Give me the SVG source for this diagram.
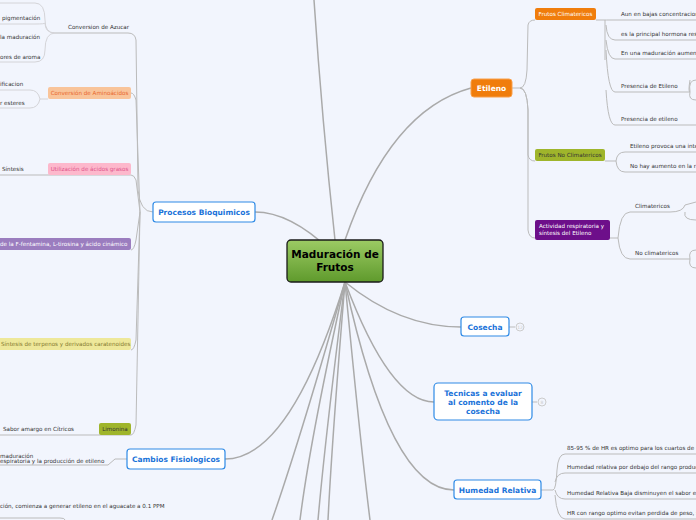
<svg xmlns="http://www.w3.org/2000/svg" width="696" height="520" viewBox="0 0 696 520">
<defs>
<linearGradient id="g" x1="0" y1="0" x2="0" y2="1"><stop offset="0" stop-color="#9ccb64"/><stop offset="1" stop-color="#5f9a2c"/></linearGradient>
<style>
text{font-family:Verdana,"DejaVu Sans",sans-serif}
.l{font-size:5.6px;fill:#333}
.c{fill:none;stroke:#bbb;stroke-width:1}
.m{fill:none;stroke:#aaa;stroke-width:1.5}
.u{fill:none;stroke:#d4d4d8;stroke-width:1}
.b{fill:#fff;stroke:#2e8ae6;stroke-width:1.2}
.bt{font-size:7.5px;font-weight:bold;fill:#1a73d9;text-anchor:middle}
.s{font-size:5.6px;text-anchor:middle}
</style>
</defs>
<rect width="696" height="520" fill="#f2f5fd"/>
<g id="connectors">
<path class="m" d="M335 240 Q322 120 314 0"/>
<path class="m" d="M345 240 Q390 110 471 88"/>
<path class="m" d="M330 250 Q290 212 255 212"/>
<path class="m" d="M345 282 Q400 327 461 327"/>
<path class="m" d="M345 282 Q390 402 434 402"/>
<path class="m" d="M345 282 Q390 490 454 490"/>
<path class="m" d="M345 282 Q290 459 225 459"/>
<path class="m" d="M345 282 Q300 440 272 520"/>
<path class="m" d="M345 282 Q310 440 300 520"/>
<path class="m" d="M345 282 Q325 440 318 520"/>
<path class="m" d="M345 282 Q332 440 328 520"/>
<path class="m" d="M345 282 Q360 440 370 520"/>
<path class="c" d="M153 212 Q140 212 138 190 L136 40 Q135 33 128 33 L55 33"/>
<path class="c" d="M140 212 L136 100 Q134 93 131 93"/>
<path class="c" d="M140 212 L136 180 Q134 175 131 175 L0 175"/>
<path class="c" d="M140 212 L136 240 Q134 250 131 250"/>
<path class="c" d="M140 212 L136 340 Q134 350 131 350"/>
<path class="c" d="M140 212 L136 425 Q134 435 131 435 L0 435"/>
<path class="c" d="M127 459 L115 459 L108 465 L0 465"/>
<path class="c" d="M0 518 L60 518 Q65 518 65 520"/>
<path class="u" d="M55 33 Q45 33 45 20 Q45 3 35 3 L0 3 M55 33 Q45 33 45 23 Q45 24 35 24 L0 24 M55 33 Q45 33 45 50 Q45 62 35 62 L0 62"/>
<path class="u" d="M48 99 L40 99 Q38 90 30 90 L0 90 M40 99 Q38 108 30 108 L0 108"/>
<path class="c" d="M512 88 L520 88 Q526 88 527 70 L528 25 Q529 20 535 20"/>
<path class="c" d="M520 88 Q527 88 528 110 L528 155 Q529 161 535 161"/>
<path class="c" d="M520 88 Q527 88 528 110 L528 230 Q529 238 535 238"/>
<path class="c" d="M596 20 L605 20 L605 60 M605 20 Q605 20 610 20 L696 20 M606 25 Q607 40 615 40 L696 40 M606 40 Q608 59 615 59 L696 59 M606 50 Q608 92 615 92 L690 92 Q688 92 690 80 M606 90 Q608 125 615 125 L696 125"/>
<path class="c" d="M690 92 Q688 100 696 100 M690 92 Q688 80 696 80"/>
<path class="c" d="M605 161 L616 161 Q617 152 625 152 L696 152 M616 161 Q617 172 625 172 L696 172"/>
<path class="c" d="M610 238 L618 238 Q620 212 630 212 L670 212 Q683 212 685 205 L696 202 M685 212 Q683 220 696 220 M618 238 Q620 259 630 259 L690 259 Q688 250 696 250 M690 259 Q688 268 696 268"/>
<path class="c" d="M509 327 L515 327"/>
<path class="c" d="M532 402 L537 402"/>
<path class="c" d="M541 490 L553 490 Q556 490 557 470 Q558 454 565 454 L696 454 M555 482 Q557 473 565 473 L696 473 M555 490 Q557 499 565 499 L696 499 M555 495 Q557 519 565 519 L696 519"/>
</g>
<g id="central"><rect x="287" y="240" width="96" height="42" rx="4" fill="url(#g)" stroke="#1a1a1a" stroke-width="1.3"/><text x="335" y="258" font-size="10.5" font-weight="bold" text-anchor="middle">Maduración de</text><text x="335" y="271" font-size="10.5" font-weight="bold" text-anchor="middle">Frutos</text></g>
<g id="procesos"><rect class="b" x="153" y="202" width="102" height="20" rx="3"/><text class="bt" x="204" y="215">Procesos Bioquimicos</text></g>
<g id="cambios"><rect class="b" x="127" y="449" width="98" height="20" rx="3"/><text class="bt" x="176" y="462">Cambios Fisiologicos</text></g>
<g id="etileno"><rect x="471" y="79" width="41" height="18" rx="3" fill="#f07d0c" stroke="#f9a04b"/><text x="491.5" y="91" font-size="7.5" font-weight="bold" fill="#fff" text-anchor="middle">Etileno</text></g>
<g id="cosecha"><rect class="b" x="461" y="317" width="48" height="19" rx="3"/><text class="bt" x="485" y="330">Cosecha</text><circle cx="520" cy="327" r="4" fill="none" stroke="#ccc"/><text x="520" y="329" font-size="4.5" fill="#ccc" text-anchor="middle">12</text></g>
<g id="tecnicas"><rect class="b" x="434" y="383" width="98" height="37" rx="4"/><text class="bt" x="483" y="396">Tecnicas a evaluar</text><text class="bt" x="483" y="405">al comento de la</text><text class="bt" x="483" y="414">cosecha</text><circle cx="542" cy="402" r="4" fill="none" stroke="#ccc"/><text x="542" y="404" font-size="4.5" fill="#ccc" text-anchor="middle">8</text></g>
<g id="humedad"><rect class="b" x="454" y="480" width="87" height="19" rx="3"/><text class="bt" x="497.5" y="493">Humedad Relativa</text></g>
<g id="sub-left">
<text class="l" x="68" y="29">Conversion de Azucar</text>
<rect x="48" y="87" width="83" height="12" rx="2" fill="#f9c49a"/><text class="s" x="89.5" y="95" fill="#e8652b">Conversión de Aminoácidos</text>
<rect x="48" y="163" width="83" height="12" rx="2" fill="#fdb8cc"/><text class="s" x="89.5" y="171" fill="#e0558a">Utilización de ácidos grasos</text>
<rect x="-5" y="238" width="136" height="12" rx="2" fill="#9b7dbf"/><text class="l" x="0" y="246" style="fill:#fff">de la F-fentamina, L-tirosina y ácido cinámico</text>
<rect x="-5" y="338" width="136" height="12" rx="2" fill="#eee89a"/><text class="l" x="1" y="346" style="fill:#857a30">Síntesis de terpenos y derivados caratenoides</text>
<rect x="99" y="423" width="32" height="12" rx="2" fill="#9fb52b"/><text class="s" x="115" y="431" fill="#333">Limonina</text>
<text class="l" x="2" y="20">pigmentación</text>
<text class="l" x="0" y="39">la maduración</text>
<text class="l" x="0" y="59">ores de aroma</text>
<text class="l" x="0" y="86">ificacion</text>
<text class="l" x="0" y="105">r esteres</text>
<text class="l" x="2" y="171">Síntesis</text>
<text class="l" x="3" y="431">Sabor amargo en Cítricos</text>
<text class="l" x="0" y="458">maduración</text>
<text class="l" x="0" y="463">espiratoria y la producción de etileno</text>
<text class="l" x="0" y="508">ción, comienza a generar etileno en el aguacate a 0.1 PPM</text>
</g>
<g id="sub-right">
<rect x="535" y="8" width="61" height="12" rx="2" fill="#f07d0c"/><text class="s" x="565.5" y="16" fill="#fff">Frutos Climatericos</text>
<rect x="535" y="149" width="70" height="12" rx="2" fill="#9fb52b"/><text class="s" x="570" y="157" fill="#333">Frutos No Climatericos</text>
<rect x="535" y="220" width="75" height="20" rx="2" fill="#6d0f8a"/><text class="l" x="539" y="228" style="fill:#fff">Actividad respiratoria y</text><text class="l" x="539" y="235" style="fill:#fff">síntesis del Etileno</text>
<text class="l" x="621" y="16">Aun en bajas concentracion</text>
<text class="l" x="621" y="36">es la principal hormona res</text>
<text class="l" x="621" y="55">En una maduración aument</text>
<text class="l" x="621" y="88">Presencia de Etileno</text>
<text class="l" x="621" y="121">Presencia de etileno</text>
<text class="l" x="630" y="148">Etileno provoca una inte</text>
<text class="l" x="630" y="168">No hay aumento en la r</text>
<text class="l" x="635" y="208">Climatericos</text>
<text class="l" x="635" y="255">No climatericos</text>
<text class="l" x="567" y="450">85-95 % de HR es optimo para los cuartos de</text>
<text class="l" x="567" y="469">Humedad relativa por debajo del rango produc</text>
<text class="l" x="567" y="495">Humedad Relativa Baja disminuyen el sabor ex</text>
<text class="l" x="567" y="515">HR con rango optimo evitan perdida de peso, s</text>
</g>
</svg>
